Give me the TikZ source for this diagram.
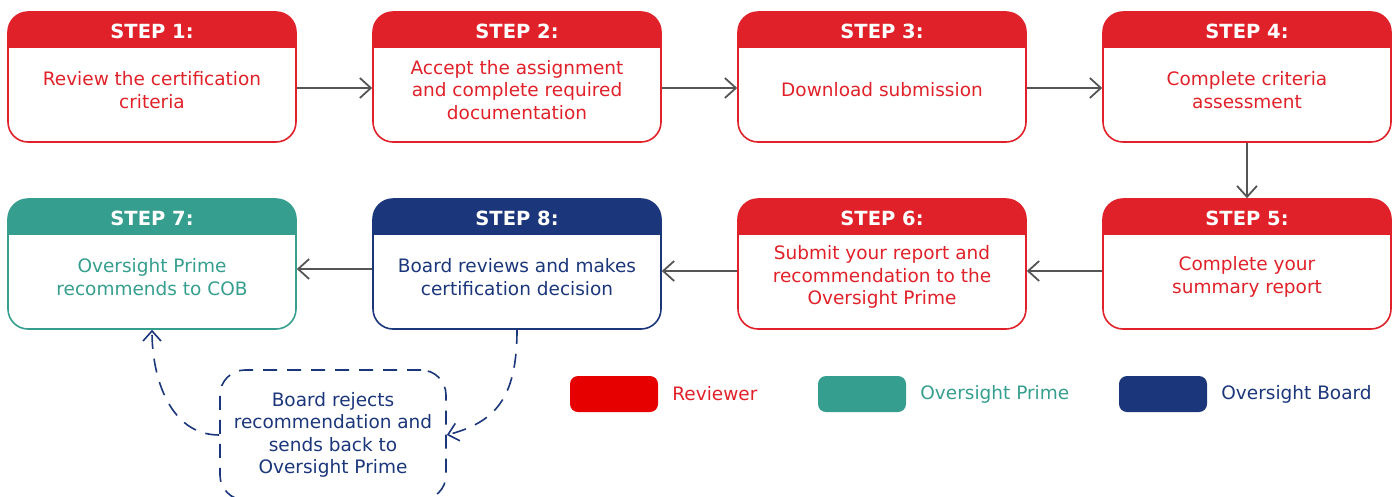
\documentclass[tikz,border=0pt]{standalone}
\usepackage{fontspec}
\setmainfont{DejaVu Sans}
\usetikzlibrary{arrows.meta,positioning}

\definecolor{stepred}{RGB}{225,33,41}
\definecolor{keyred}{RGB}{230,0,0}
\definecolor{primeteal}{RGB}{54,158,142}
\definecolor{boardnavy}{RGB}{27,54,122}
\definecolor{flowgray}{RGB}{85,85,85}

\begin{document}
\begin{tikzpicture}[x=1pt, y=-1pt,
    card/.style={draw=#1, line width=1.6pt, rounded corners=20pt,
        minimum width=288pt, minimum height=130pt, inner sep=0pt},
    head/.style={text=white, inner sep=0pt, font=\fontsize{19.5}{22}\selectfont\bfseries},
    body/.style={text=#1, align=center, inner sep=0pt, font=\fontsize{18.5}{22.5}\selectfont},
    flow/.style={draw=flowgray, line width=1.8pt, -{Straight Barb[length=11pt,width=20pt]}},
    back/.style={draw=boardnavy, line width=1.6pt, dash pattern=on 14pt off 10pt,
        -{Straight Barb[length=10pt,width=18pt]}},
    key/.style={fill=#1, rounded corners=8pt, minimum width=88pt, minimum height=36pt, inner sep=0pt},
    keytext/.style={text=#1, inner sep=0pt, font=\fontsize{18.5}{22.5}\selectfont}]

    \useasboundingbox (0,0) rectangle (1397,496);

    % cards: frame, coloured header band, step number, text
    \foreach \nm/\cx/\cy/\col/\num/\txt in {
        s1/152/77/stepred/1/{Review the certification\\criteria},
        s2/517/77/stepred/2/{Accept the assignment\\and complete required\\documentation},
        s3/882/77/stepred/3/{Download submission},
        s4/1247/77/stepred/4/{Complete criteria\\assessment},
        s5/1247/264/stepred/5/{Complete your\\summary report},
        s6/882/264/stepred/6/{Submit your report and\\recommendation to the\\Oversight Prime},
        s8/517/264/boardnavy/8/{Board reviews and makes\\certification decision},
        s7/152/264/primeteal/7/{Oversight Prime\\recommends to COB}}
    {
        \begin{scope}
        \clip[rounded corners=20pt] (\cx-144,\cy-65) rectangle (\cx+144,\cy+65);
        \fill[\col] (\cx-144,\cy-65) rectangle (\cx+144,\cy-29);
        \end{scope}
        \node[card=\col] (\nm) at (\cx,\cy) {};
        \node[head] (\nm h) at (\cx,\cy-46) {STEP \num:};
        \node[body=\col] (\nm t) at (\cx,\cy+13) {\txt};
    }

    % main flow
    \draw[flow] ([yshift=-11pt]s1.east) -- ([yshift=-11pt]s2.west);
    \draw[flow] ([yshift=-11pt]s2.east) -- ([yshift=-11pt]s3.west);
    \draw[flow] ([yshift=-11pt]s3.east) -- ([yshift=-11pt]s4.west);
    \draw[flow] (s4.south) -- (s5.north);
    \draw[flow] ([yshift=-7pt]s5.west) -- ([yshift=-7pt]s6.east);
    \draw[flow] ([yshift=-7pt]s6.west) -- ([yshift=-7pt]s8.east);
    \draw[flow] ([yshift=-5pt]s8.west) -- ([yshift=-5pt]s7.east);

    % rejection loop
    \node[draw=boardnavy, line width=1.6pt, dash pattern=on 14pt off 10pt, rounded corners=25pt,
        minimum width=226pt, minimum height=130pt, inner sep=0pt,
        body=boardnavy] (rj) at (333,435)
        {Board rejects\\recommendation and\\sends back to\\Oversight Prime};
    \draw[back] (s8.south) to[out=-90, in=15, out looseness=1.4] (rj.east);
    \draw[back] (rj.west) to[out=180, in=-90] (s7.south);

    % legend
    \node[key=keyred] (k1) at (614,394) {};
    \node[keytext=stepred, right=14pt of k1] (k1t) {Reviewer};
    \node[key=primeteal] (k2) at (862,394) {};
    \node[keytext=primeteal, right=14pt of k2] (k2t) {Oversight Prime};
    \node[key=boardnavy] (k3) at (1163,394) {};
    \node[keytext=boardnavy, right=14pt of k3] (k3t) {Oversight Board};

\end{tikzpicture}
\end{document}
